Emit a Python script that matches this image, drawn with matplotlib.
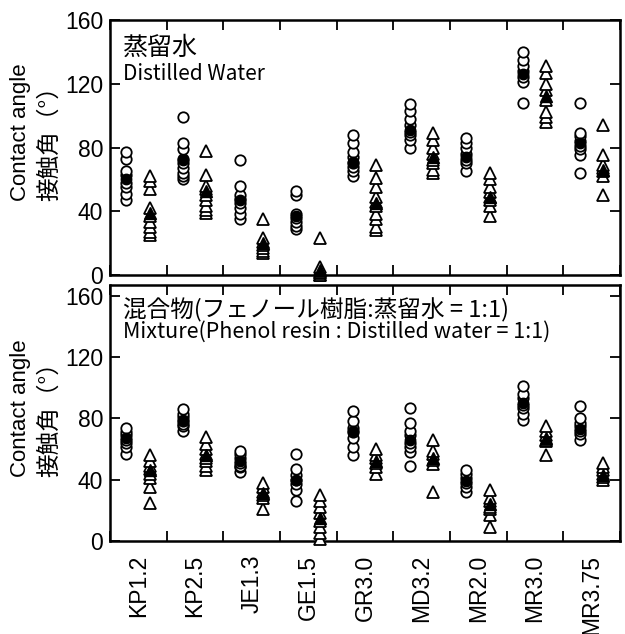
import numpy as np
import matplotlib
matplotlib.use('Agg')
import matplotlib.pyplot as plt

# Sample names (x axis)
labels = ['KP1.2', 'KP2.5', 'JE1.3', 'GE1.5', 'GR3.0', 'MD3.2', 'MR2.0', 'MR3.0', 'MR3.75']

# Top panel: distilled water. Open markers = single readings, filled = mean.
water_circ = [
    [77, 73, 65, 63, 58, 55, 51, 47],
    [99, 83, 79, 73, 70, 67, 64, 62, 60],
    [72, 56, 50, 48, 45, 42, 38, 35],
    [53, 50, 38, 36, 33, 31, 29],
    [88, 83, 77, 74, 70, 68, 65, 62],
    [107, 103, 98, 94, 90, 88, 85, 80],
    [86, 83, 80, 76, 72, 70, 65],
    [140, 135, 131, 128, 124, 121, 108],
    [108, 89, 87, 84, 81, 79, 75, 64],
]
water_circ_mean = [60, 72, 47, 37, 71, 91, 74, 126, 83]
water_tri = [
    [62, 59, 54, 42, 37, 33, 30, 27, 25],
    [78, 63, 56, 54, 50, 47, 43, 41, 39],
    [35, 23, 21, 19, 17, 15, 14],
    [23, 5, 3, 2, 1, 0, 0],
    [69, 61, 55, 49, 46, 43, 38, 35, 30, 28],
    [89, 85, 80, 76, 72, 70, 66, 64],
    [64, 60, 55, 52, 49, 47, 43, 37],
    [131, 127, 120, 116, 110, 102, 99, 96],
    [94, 75, 69, 67, 65, 62, 50],
]
water_tri_mean = [39, 53, 20, 3, 45, 74, 49, 112, 66]

# Bottom panel: mixture (phenol resin : distilled water = 1:1)
mix_circ = [
    [74, 71, 69, 66, 64, 61, 57],
    [86, 83, 81, 78, 76, 75, 72],
    [59, 57, 54, 51, 49, 48, 45],
    [57, 47, 43, 40, 37, 33, 26],
    [85, 78, 74, 71, 67, 61, 56],
    [87, 77, 72, 69, 64, 61, 58, 49],
    [46, 44, 41, 38, 35, 32],
    [101, 96, 93, 89, 87, 83, 79],
    [88, 80, 77, 75, 72, 70, 66],
]
mix_circ_mean = [67, 79, 52, 40, 72, 66, 39, 90, 73]
mix_tri = [
    [56, 52, 49, 47, 44, 41, 35, 25],
    [68, 63, 60, 57, 54, 52, 49, 46],
    [38, 35, 32, 30, 28, 21],
    [30, 26, 22, 18, 13, 9, 5, 1],
    [60, 56, 54, 51, 48, 44],
    [66, 59, 57, 53, 50, 32],
    [33, 28, 26, 22, 21, 17, 9],
    [75, 72, 69, 66, 65, 56],
    [51, 48, 46, 44, 42, 40],
]
mix_tri_mean = [46, 56, 31, 15, 52, 54, 24, 67, 43]

latin = ['Liberation Sans', 'DejaVu Sans']
cjk = ['Noto Sans CJK JP', 'DejaVu Sans']
plt.rcParams['font.family'] = latin


def draw_panel(ax, circ, circ_mean, tri, tri_mean, ymax):
    for i in range(len(labels)):
        # plot lowest first so upper markers sit on top (stacked look)
        yc = np.sort(circ[i])
        ax.plot(np.full(len(yc), i + 0.29), yc, 'o', ms=7.5, mfc='white', mec='black',
                mew=1.3, clip_on=False, zorder=3)
        ax.plot(i + 0.29, circ_mean[i], 'o', ms=7.5, color='black', clip_on=False, zorder=4)
        yt = np.sort(tri[i])
        ax.plot(np.full(len(yt), i + 0.70), yt, '^', ms=8.5, mfc='white', mec='black',
                mew=1.3, clip_on=False, zorder=3)
        ax.plot(i + 0.70, tri_mean[i], '^', ms=8.5, color='black', clip_on=False, zorder=4)

    ax.set_xlim(0, len(labels))
    ax.set_ylim(0, ymax)
    ax.set_xticks(range(len(labels) + 1))
    ax.set_xticklabels([])
    ax.set_xticks(np.arange(len(labels)) + 0.5, minor=True)
    ax.set_yticks([0, 40, 80, 120, 160])
    ax.tick_params(axis='both', which='major', direction='in', top=True, right=True,
                   length=7, width=1.3, labelsize=16.5, pad=5)
    ax.tick_params(axis='x', which='minor', length=0, pad=10, labelsize=16.5)
    for s in ax.spines.values():
        s.set_linewidth(1.8)


fig = plt.figure(figsize=(6.25, 6.34), dpi=100)
ax1 = fig.add_axes([0.176, 0.5662, 0.816, 0.4023])
ax2 = fig.add_axes([0.176, 0.1467, 0.816, 0.4038])

draw_panel(ax1, water_circ, water_circ_mean, water_tri, water_tri_mean, 160)
draw_panel(ax2, mix_circ, mix_circ_mean, mix_tri, mix_tri_mean, 167)
ax1.set_xticklabels([], minor=True)
ax2.set_xticklabels(labels, minor=True, rotation=90, va='top', ha='center')

# y axis labels, two lines (English + Japanese)
for ax, yb in [(ax1, 0.29), (ax2, 0.25)]:
    ax.text(-0.176, yb, 'Contact angle', transform=ax.transAxes, rotation=90,
            ha='center', va='bottom', fontsize=16, family=latin)
    ax.text(-0.118, yb, '接触角（°）', transform=ax.transAxes, rotation=90,
            ha='center', va='bottom', fontsize=17, family=cjk)

# panel titles
ax1.text(0.025, 0.94, '蒸留水', transform=ax1.transAxes, ha='left', va='top',
         fontsize=18, family=cjk)
ax1.text(0.025, 0.83, 'Distilled Water', transform=ax1.transAxes, ha='left', va='top',
         fontsize=15, family=cjk)
ax2.text(0.025, 0.95, '混合物(フェノール樹脂:蒸留水 = 1:1)', transform=ax2.transAxes,
         ha='left', va='top', fontsize=17, family=cjk)
ax2.text(0.025, 0.86, 'Mixture(Phenol resin : Distilled water = 1:1)', transform=ax2.transAxes,
         ha='left', va='top', fontsize=15.5, family=cjk)

plt.savefig('out.png', dpi=100)
